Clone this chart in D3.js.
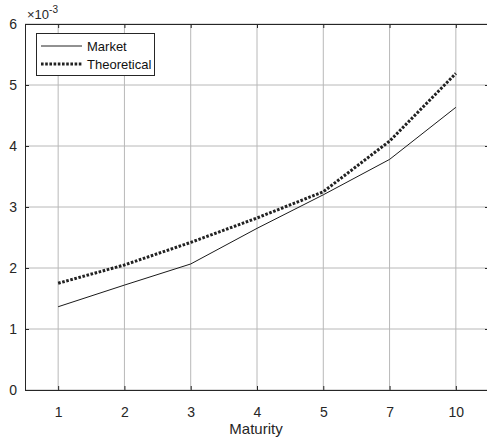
<!DOCTYPE html>
<html><head><meta charset="utf-8">
<script src="https://cdn.jsdelivr.net/npm/d3@7/dist/d3.min.js"></script>
<style>body{margin:0;background:#fff;} text{font-family:"Liberation Sans",Arial,sans-serif;}</style>
</head><body>
<svg id="c" width="487" height="439"></svg>
<script>
const categories = ["1","2","3","4","5","7","10"];
const market = [1.365, 1.72, 2.066, 2.65, 3.2, 3.78, 4.634];
const theoretical = [1.75, 2.05, 2.42, 2.82, 3.25, 4.08, 5.19];
const yTicks = [0,1,2,3,4,5,6];
const seriesNames = ["Market","Theoretical"];

const svg = d3.select("#c");
const L = 25, R = 489, T = 24, B = 390;
const x = d3.scalePoint().domain(categories).range([L, R]).padding(0.5);
const y = d3.scaleLinear().domain([0,6]).range([B, T]);

// grid
const g = svg.append("g");
g.selectAll(".gx").data(categories).join("line")
  .attr("x1", d=>x(d)).attr("x2", d=>x(d)).attr("y1", T).attr("y2", B)
  .attr("stroke", "#b8b8b8").attr("stroke-width", 1);
g.selectAll(".gy").data(yTicks).join("line")
  .attr("x1", L).attr("x2", R).attr("y1", d=>y(d)).attr("y2", d=>y(d))
  .attr("stroke", "#b8b8b8").attr("stroke-width", 1);

// axes
svg.append("g").attr("transform", `translate(0,${B})`)
  .call(d3.axisBottom(x).tickSize(-4).tickPadding(17));
svg.append("g").attr("transform", `translate(${L},0)`)
  .call(d3.axisLeft(y).tickValues(yTicks).tickFormat(d3.format("d")).tickSize(-4).tickPadding(8));
svg.append("g").attr("transform", `translate(0,${T})`)
  .call(d3.axisTop(x).tickSize(-4).tickFormat(""));
svg.append("g").attr("transform", `translate(${R},0)`)
  .call(d3.axisRight(y).tickValues(yTicks).tickSize(-4).tickFormat(""));
svg.selectAll(".domain").attr("stroke", "#262626");
svg.selectAll(".tick line").attr("stroke", "#262626");
svg.selectAll(".tick text").attr("fill", "#262626").style("font-size", "14px");

// exponent
const ex = svg.append("text").attr("x", 27).attr("y", 19).attr("fill", "#262626").style("font-size","13px");
ex.append("tspan").text("×10");
ex.append("tspan").attr("dy", -6).style("font-size","10px").text("-3");

// x label
svg.append("text").attr("x", (L+R)/2 - 1).attr("y", 434).attr("text-anchor","middle")
  .attr("fill","#262626").style("font-size","15px").text("Maturity");

// lines
const line = d3.line().x((d,i)=>x(categories[i])).y(d=>y(d));
svg.append("path").datum(market).attr("d", line).attr("fill","none")
  .attr("stroke","#1a1a1a").attr("stroke-width",1);
svg.append("path").datum(theoretical).attr("d", line).attr("fill","none")
  .attr("stroke","#222").attr("stroke-width",3).attr("stroke-dasharray","2.6,1.6");

// legend
const lg = svg.append("g");
lg.append("rect").attr("x",36.5).attr("y",33.5).attr("width",118).attr("height",42)
  .attr("fill","#fff").attr("stroke","#262626").attr("stroke-width",1);
const rows = [{n:seriesNames[0], w:1, dash:null, yy:46},{n:seriesNames[1], w:3, dash:"2.6,1.6", yy:64}];
rows.forEach(r=>{
  lg.append("line").attr("x1",41).attr("x2",82).attr("y1",r.yy).attr("y2",r.yy)
    .attr("stroke","#222").attr("stroke-width",r.w).attr("stroke-dasharray",r.dash);
  lg.append("text").attr("x",87).attr("y",r.yy+4.5).attr("fill","#111").style("font-size","13px").text(r.n);
});
</script>
</body></html>
